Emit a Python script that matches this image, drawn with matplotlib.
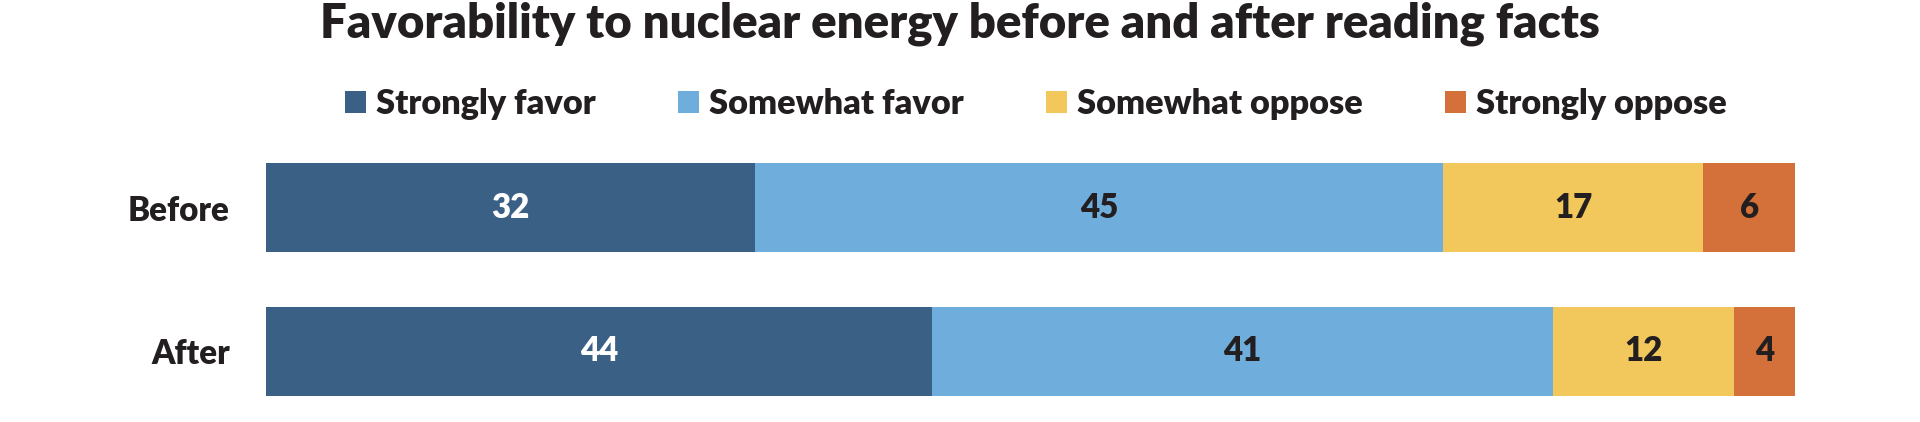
import numpy as np
import matplotlib
matplotlib.use("Agg")
import matplotlib.pyplot as plt

plt.rcParams['font.family'] = ['Lato', 'DejaVu Sans']
WEIGHT = "heavy"

# data
groups = ["Before", "After"]
series = ["Strongly favor", "Somewhat favor", "Somewhat oppose", "Strongly oppose"]
strongly_favor = [32, 44]
somewhat_favor = [45, 41]
somewhat_oppose = [17, 12]
strongly_oppose = [6, 4]

colors = ["#3A6085", "#6FAEDC", "#F2C85C", "#D4703A"]
label_colors = ["white", "#231F20", "#231F20", "#231F20"]
text_dark = "#231F20"

vals = np.array([strongly_favor, somewhat_favor, somewhat_oppose, strongly_oppose], dtype=float)
# each row is shown as a full 100% bar
shares = vals / vals.sum(axis=0)

W, H = 1920, 422
fig = plt.figure(figsize=(W / 100, H / 100), dpi=100)
fig.patch.set_facecolor("white")
renderer = fig.canvas.get_renderer()


def fit_width(txt, target_px):
    # scale a text's font size so it spans target_px pixels
    w = txt.get_window_extent(renderer).width
    txt.set_fontsize(txt.get_fontsize() * target_px / w)
    return txt.get_fontsize()


bar_h = 89 / 143
ax_top, ax_bot = 163, 396
ax = fig.add_axes([266 / W, 1 - ax_bot / H, (1795 - 266) / W, (ax_bot - ax_top) / H])
y = np.arange(len(groups))

# label size from the width of "Before" in the reference
probe = fig.text(0, 0, "Before", fontsize=24, fontweight=WEIGHT)
lab_fs = fit_width(probe, 102)
probe.remove()

left = np.zeros(len(groups))
handles = []
for i, name in enumerate(series):
    b = ax.barh(y, shares[i], left=left, height=bar_h, color=colors[i], label=name)
    handles.append(b)
    for j in range(len(groups)):
        ax.text(left[j] + shares[i][j] / 2, y[j], f"{int(vals[i][j])}",
                ha="center", va="center", fontsize=lab_fs, fontweight=WEIGHT,
                color=label_colors[i])
    left += shares[i]

ax.set_xlim(0, 1)
ax.set_ylim(len(groups) - 1 + bar_h / 2, -bar_h / 2)
ax.set_yticks(y)
ax.set_yticklabels(groups, fontsize=lab_fs, fontweight=WEIGHT, color=text_dark)
ax.tick_params(axis="y", length=0, pad=26)
ax.set_xticks([])
for s in ax.spines.values():
    s.set_visible(False)

title = fig.text(0.5, 1 - 37 / H, "Favorability to nuclear energy before and after reading facts",
                 ha="center", va="baseline", fontsize=30, fontweight=WEIGHT, color=text_dark)
fit_width(title, 1276)

probe = fig.text(0, 0, "Strongly favor", fontsize=20, fontweight=WEIGHT)
fs = fit_width(probe, 220)
probe.remove()

fs_px = fs * 100 / 72
fig.legend(handles=handles, labels=series, loc="center", ncol=4,
           bbox_to_anchor=(1036 / W, 1 - 104 / H), frameon=False,
           prop={"size": fs, "weight": WEIGHT}, labelcolor=text_dark,
           handlelength=21 / fs_px, handleheight=20 / fs_px, handletextpad=10 / fs_px,
           columnspacing=82 / fs_px)

fig.savefig("out.png", dpi=100, facecolor="white")
